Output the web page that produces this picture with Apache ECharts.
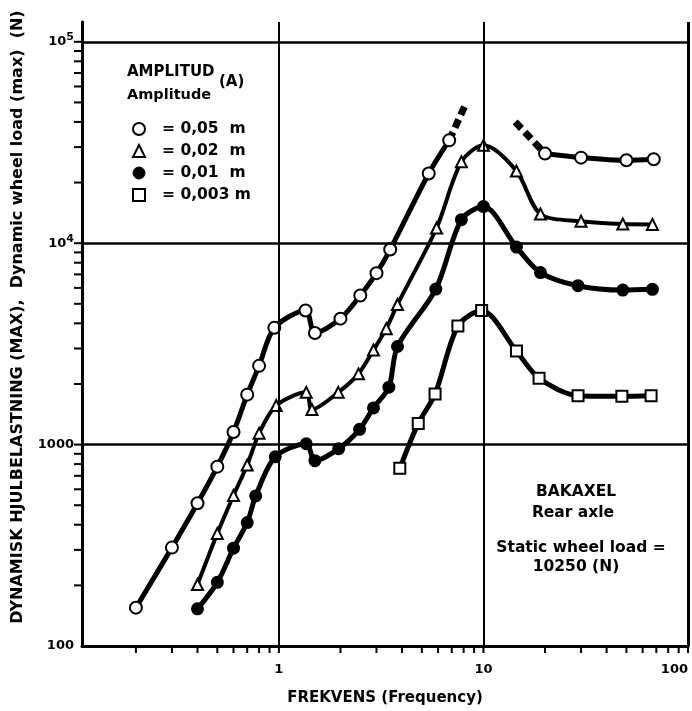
<!DOCTYPE html>
<html><head><meta charset="utf-8">
<script src="https://cdn.jsdelivr.net/npm/echarts@6/dist/echarts.min.js"></script>
<style>html,body{margin:0;padding:0;background:#fff}#c{width:692px;height:711px}</style>
</head><body><div id="c"></div>
<script>
// ---- data ----
const circleX1 = [0.2, 0.3, 0.4, 0.5, 0.6, 0.7, 0.8, 0.95, 1.35, 1.5, 2, 2.5, 3, 3.5, 5.4, 6.8];
const circleY1 = [155, 308, 511, 777, 1154, 1770, 2460, 3800, 4630, 3580, 4220, 5500, 7100, 9300, 22200, 32400];
const circleX2 = [20, 30, 50, 68];
const circleY2 = [27860, 26600, 25800, 26100];
const circleExtLX = [6.8, 8.1];
const circleExtLY = [32400, 47900];
const circleExtRX = [14.3, 20];
const circleExtRY = [40000, 27860];

const triX = [0.4, 0.5, 0.6, 0.7, 0.8, 0.97, 1.36, 1.45, 1.95, 2.45, 2.9, 3.35, 3.8, 5.9, 7.8, 10, 14.5, 19, 30, 48, 67];
const triY = [202, 362, 559, 792, 1137, 1562, 1817, 1494, 1817, 2245, 2946, 3764, 4963, 11900, 25350, 30600, 22800, 13960, 12850, 12450, 12400];

const dotX = [0.4, 0.5, 0.6, 0.7, 0.77, 0.96, 1.36, 1.5, 1.96, 2.48, 2.9, 3.45, 3.8, 5.85, 7.8, 10, 14.5, 19, 29, 48, 67];
const dotY = [153, 207, 306, 410, 556, 870, 1010, 832, 955, 1191, 1521, 1929, 3070, 5918, 13090, 15200, 9570, 7150, 6150, 5850, 5900];

const sqX = [3.9, 4.8, 5.8, 7.5, 9.8, 14.5, 18.7, 29, 47.5, 66];
const sqY = [762, 1274, 1782, 3879, 4634, 2912, 2136, 1750, 1737, 1750];

const seriesNames = ['= 0,05  m', '= 0,02  m', '= 0,01  m', '= 0,003 m'];
const xGridValues = [1, 10, 100];
const yGridValues = [1000, 10000, 100000];
const xTickValues = [0.2,0.3,0.4,0.5,0.6,0.7,0.8,0.9,1,2,3,4,5,6,7,8,9,10,20,30,40,50,60,70,80,90,100];
const yTickValues = [200,300,400,500,600,700,800,900,1000,2000,3000,4000,5000,6000,7000,8000,9000,10000,20000,30000,40000,50000,60000,70000,80000,90000,100000];
const xMin = 0.109, xMax = 100, yMin = 100, yMax = 125400;

// ---- chart ----
const FONT = 'DejaVu Sans';
const zip = (xs, ys) => xs.map((x, i) => [x, ys[i]]);
const isPow = v => Math.abs(Math.log10(v) - Math.round(Math.log10(v))) < 1e-6;

function lineSeries(name, data, symbol, size, fill, width) {
  return {
    type: 'line', name, data, smooth: 0.3, symbol, symbolSize: size,
    showSymbol: true, showAllSymbol: true,
    itemStyle: { color: fill, borderColor: '#000', borderWidth: 2 },
    lineStyle: { color: '#000', width },
    emphasis: { disabled: true }, z: 3, animation: false
  };
}
function dashSeries(data) {
  return {
    type: 'line', data, symbol: 'none', silent: true, z: 2,
    lineStyle: { color: '#000', width: 7, type: [9, 5], cap: 'butt' },
    emphasis: { disabled: true }, animation: false
  };
}
function label(text, x, y, size, align) {
  return { type: 'text', x, y, silent: true,
    style: { text, fontSize: size, fontWeight: 'bold', fontFamily: FONT, fill: '#000',
      align: align || 'left', verticalAlign: 'middle' } };
}

const grid = [
  ...xGridValues.map(v => ({ xAxis: v, lineStyle: { width: v === 100 ? 3 : 2 } })),
  ...yGridValues.map(v => ({ yAxis: v, lineStyle: { width: 2.5 } }))
];

const sq = lineSeries(seriesNames[3], zip(sqX, sqY), 'rect', 11, '#fff', 5);
sq.markLine = { silent: true, symbol: 'none', label: { show: false }, animation: false,
  lineStyle: { color: '#000', type: 'solid' }, data: grid };

const chart = echarts.init(document.getElementById('c'), null, { renderer: 'canvas' });
chart.setOption({
  animation: false,
  backgroundColor: '#fff',
  grid: { left: 82, right: 4, top: 22, bottom: 59 },
  xAxis: {
    type: 'log', logBase: 10, min: xMin, max: xMax,
    axisLine: { lineStyle: { color: '#000', width: 3 } },
    axisTick: { show: false }, splitLine: { show: false }, minorTick: { show: false },
    axisLabel: { color: '#000', fontSize: 13, fontWeight: 'bold', fontFamily: FONT, margin: 17, alignMaxLabel: 'right',
      formatter: v => isPow(v) && v >= 1 ? String(Math.round(v)) : '' },
    name: 'FREKVENS (Frequency)', nameLocation: 'middle', nameGap: 45,
    nameTextStyle: { color: '#000', fontSize: 15, fontWeight: 'bold', fontFamily: FONT }
  },
  yAxis: {
    type: 'log', logBase: 10, min: yMin, max: yMax,
    axisLine: { lineStyle: { color: '#000', width: 3 } },
    axisTick: { show: false }, splitLine: { show: false }, minorTick: { show: false },
    axisLabel: { color: '#000', fontSize: 13, fontWeight: 'bold', fontFamily: FONT, margin: 8,
      formatter: v => {
        if (!isPow(v)) return '';
        const e = Math.round(Math.log10(v));
        if (e <= 3) return String(Math.round(v));
        return '{b|10}{s|' + e + '}';
      },
      rich: { b: { fontSize: 13, fontWeight: 'bold', fontFamily: FONT, color: '#000' },
              s: { fontSize: 11, fontWeight: 'bold', fontFamily: FONT, color: '#000', padding: [0, 0, 9, 0] } } }
  },
  legend: {
    orient: 'vertical', left: 132, top: 121, itemWidth: 12, itemHeight: 12, itemGap: 6, padding: 0,
    selectedMode: false,
    textStyle: { fontSize: 15.5, fontWeight: 'bold', fontFamily: FONT, color: '#000', lineHeight: 16, padding: [0, 0, 0, 12] },
    data: [
      { name: seriesNames[0], icon: 'circle', itemStyle: { color: '#fff', borderColor: '#000', borderWidth: 2 } },
      { name: seriesNames[1], icon: 'triangle', itemStyle: { color: '#fff', borderColor: '#000', borderWidth: 2 } },
      { name: seriesNames[2], icon: 'circle', itemStyle: { color: '#000', borderColor: '#000', borderWidth: 1 } },
      { name: seriesNames[3], icon: 'rect', itemStyle: { color: '#fff', borderColor: '#000', borderWidth: 2 } }
    ]
  },
  graphic: [
    { type: 'text', x: 18, y: 317, rotation: Math.PI / 2, silent: true,
      style: { text: 'DYNAMISK HJULBELASTNING (MAX),  Dynamic wheel load (max)  (N)',
        fontSize: 16, fontWeight: 'bold', fontFamily: FONT, fill: '#000', align: 'center', verticalAlign: 'middle' } },
    label('AMPLITUD', 127, 72, 15),
    label('(A)', 219, 82, 15),
    label('Amplitude', 127, 95, 14.5),
    label('BAKAXEL', 576, 492, 15.5, 'center'),
    label('Rear axle', 573, 513, 15.5, 'center'),
    label('Static wheel load =', 581, 548, 15.5, 'center'),
    label('10250 (N)', 576, 567, 15.5, 'center')
  ],
  series: [
    dashSeries(zip(circleExtLX, circleExtLY)),
    dashSeries(zip(circleExtRX, circleExtRY)),
    lineSeries(seriesNames[0], zip(circleX1, circleY1), 'circle', 12, '#fff', 5),
    lineSeries(seriesNames[0], zip(circleX2, circleY2), 'circle', 12, '#fff', 5),
    lineSeries(seriesNames[1], zip(triX, triY), 'triangle', 11, '#fff', 4),
    lineSeries(seriesNames[2], zip(dotX, dotY), 'circle', 11, '#000', 5),
    sq,
    { type: 'custom', silent: true, clip: false, z: 1, animation: false,
      data: xTickValues.map(v => [v, yMin]),
      renderItem: (p, api) => {
        const c = api.coord([api.value(0), yMin]);
        return { type: 'line', shape: { x1: c[0], y1: c[1], x2: c[0], y2: c[1] + 7 },
          style: { stroke: '#000', lineWidth: 2 } };
      } },
    { type: 'custom', silent: true, clip: false, z: 1, animation: false,
      data: yTickValues.map(v => [xMin, v]),
      renderItem: (p, api) => {
        const c = api.coord([xMin, api.value(1)]);
        return { type: 'line', shape: { x1: c[0] - 8, y1: c[1], x2: c[0], y2: c[1] },
          style: { stroke: '#000', lineWidth: 2 } };
      } }
  ]
});
</script></body></html>
